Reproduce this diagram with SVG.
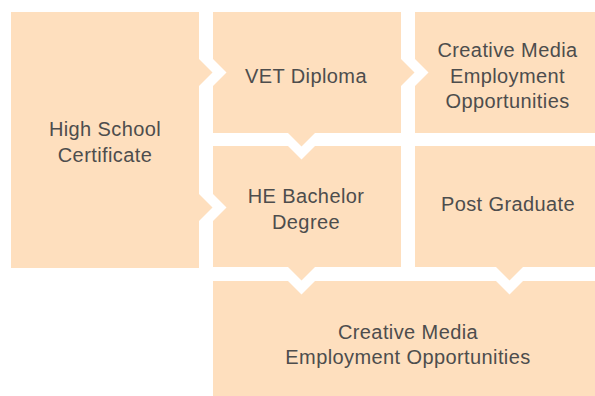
<svg xmlns="http://www.w3.org/2000/svg" width="595" height="396" viewBox="0 0 595 396">
<style>
.box{fill:#FEDFBE}
.arr{fill:#FEDFBE}
.notch{fill:#FFFFFF}
text{font-family:"Liberation Sans",Arial,sans-serif;font-size:20px;letter-spacing:0.4px;fill:#4D4D4D;text-anchor:middle}
</style>
<rect width="595" height="396" fill="#FFFFFF"/>
<g id="node-highschool">
<rect class="box" x="11" y="12" width="188" height="256"/>
<text x="105" y="136">High School</text>
<text x="105" y="162">Certificate</text>
</g>
<g id="node-vet">
<rect class="box" x="213" y="12" width="188" height="121"/>
<text x="306" y="83">VET Diploma</text>
</g>
<g id="node-creative-top">
<rect class="box" x="415" y="12" width="180" height="121"/>
<text x="507.5" y="57">Creative Media</text>
<text x="507.5" y="82.5">Employment</text>
<text x="507.5" y="108">Opportunities</text>
</g>
<g id="node-he">
<rect class="box" x="213" y="146" width="188" height="121"/>
<text x="306" y="203">HE Bachelor</text>
<text x="306" y="228.5">Degree</text>
</g>
<g id="node-postgrad">
<rect class="box" x="415" y="146" width="180" height="121"/>
<text x="508" y="210.5">Post Graduate</text>
</g>
<g id="node-creative-bottom">
<rect class="box" x="213" y="281" width="382" height="115"/>
<text x="408" y="338.5">Creative Media</text>
<text x="408" y="364">Employment Opportunities</text>
</g>
<g id="connectors">
<g id="c-hs-vet"><polygon class="notch" points="213,59 226.5,72.5 213,86"/><polygon class="arr" points="199,59 212.5,72.5 199,86"/></g>
<g id="c-hs-he"><polygon class="notch" points="213,194 226.5,207.5 213,221"/><polygon class="arr" points="199,194 212.5,207.5 199,221"/></g>
<g id="c-vet-cm"><polygon class="notch" points="415,59 428.5,72.5 415,86"/><polygon class="arr" points="401,59 414.5,72.5 401,86"/></g>
<g id="c-vet-he"><polygon class="notch" points="288,146 301.5,159.5 315,146"/><polygon class="arr" points="288,133 301.5,146.5 315,133"/></g>
<g id="c-he-cm"><polygon class="notch" points="288,281 301.5,294.5 315,281"/><polygon class="arr" points="288,267 301.5,280.5 315,267"/></g>
<g id="c-pg-cm"><polygon class="notch" points="496,281 509.5,294.5 523,281"/><polygon class="arr" points="496,267 509.5,280.5 523,267"/></g>
</g>
</svg>
